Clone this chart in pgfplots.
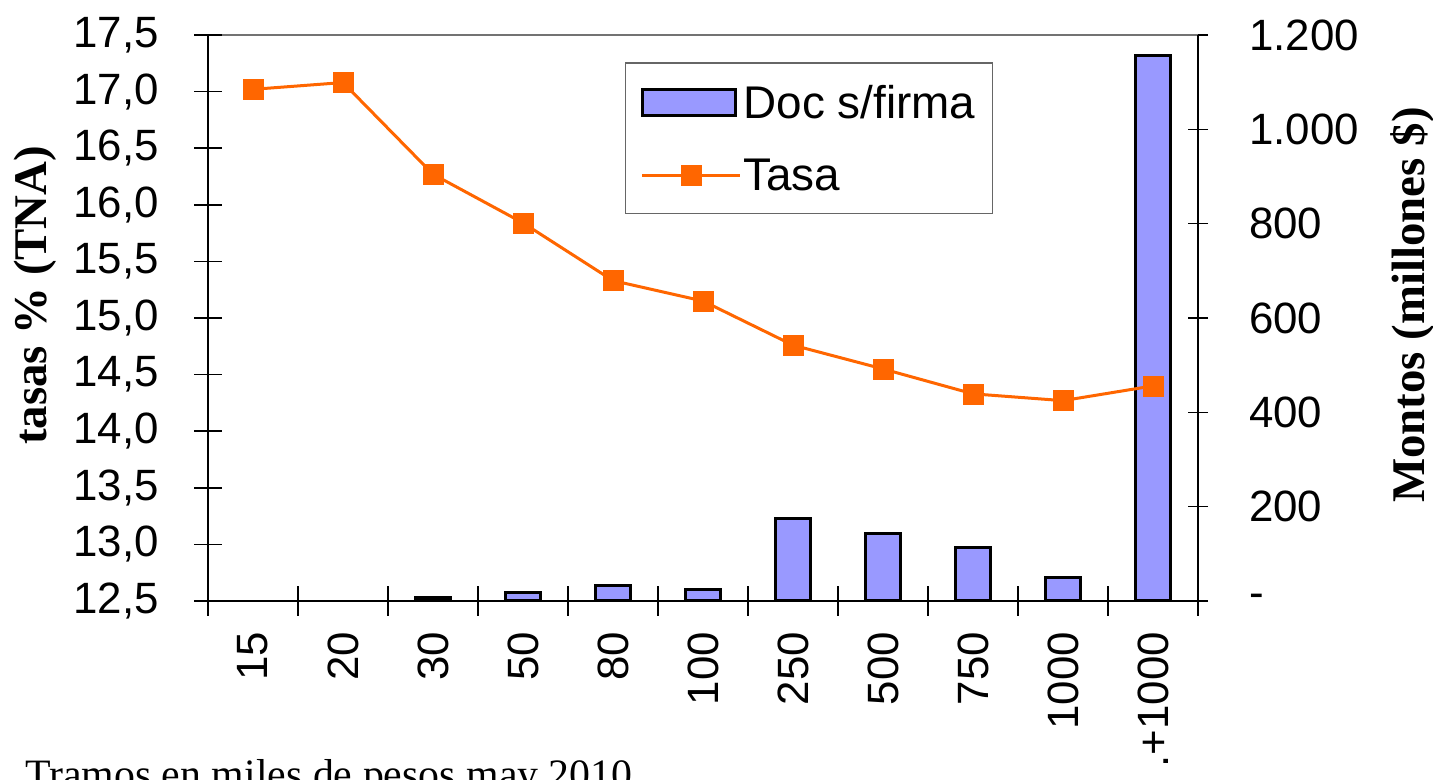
\documentclass[border=0pt]{standalone}
\usepackage{fontspec}
\setmainfont{Liberation Sans}
\newfontfamily\timesf{Liberation Serif}
\usepackage{pgfplots}
\pgfplotsset{compat=1.18}
\definecolor{barblue}{HTML}{9999FF}
\definecolor{tasaorange}{HTML}{FF6600}
\newcommand\tickfont{\fontsize{44}{50}\selectfont}
\newcommand\legfont{\fontsize{46}{52}\selectfont}
\newcommand\labfont{\timesf\bfseries\fontsize{47}{52}\selectfont}
\begin{document}
\begin{tikzpicture}
\useasboundingbox (-208bp,-179bp) rectangle (1225bp,601bp);
% bars, right axis
\begin{axis}[
  at={(0,0)}, anchor=south west, scale only axis,
  width=990bp, height=566bp,
  xmin=-0.5, xmax=10.5, ymin=0, ymax=1200,
  axis y line*=right, axis x line*=top,
  x axis line style={draw=black!55, line width=2bp},
  y axis line style={line width=1.5bp},
  xtick=\empty,
  ytick={0,200,400,600,800,1000,1200},
  yticklabels={-,200,400,600,800,{1.000},{1.200}},
  yticklabel style={anchor=west, inner sep=0pt, font=\tickfont, xshift=41bp},
  tick align=center, major tick length=20bp,
  tick style={black, line width=1.5bp},
  ylabel={Montos (millones \$)},
  ylabel style={font=\labfont, at={(axis description cs:1.217,0.523)}, anchor=center},
  ybar, bar width=35bp,
]
\addplot[fill=barblue, draw=black, line width=3bp] coordinates {
  (2,8) (3,19) (4,32) (5,25) (6,174) (7,144) (8,114) (9,49) (10,1157)};
\end{axis}
% line, left axis
\begin{axis}[
  at={(0,0)}, anchor=south west, scale only axis,
  width=990bp, height=566bp,
  xmin=-0.5, xmax=10.5, ymin=12.5, ymax=17.5,
  axis y line*=left, axis x line*=bottom,
  axis line style={line width=2bp},
  xtick={0,1,2,3,4,5,6,7,8,9,10},
  xticklabels={15,20,30,50,80,100,250,500,750,1000,.+1000},
  xticklabel style={rotate=90, anchor=east, inner sep=0pt, font=\tickfont, xshift=-17bp},
  minor xtick={-0.5,0.5,1.5,2.5,3.5,4.5,5.5,6.5,7.5,8.5,9.5,10.5},
  major x tick style={draw=none},
  ytick={12.5,13,13.5,14,14.5,15,15.5,16,16.5,17,17.5},
  yticklabels={{12,5},{13,0},{13,5},{14,0},{14,5},{15,0},{15,5},{16,0},{16,5},{17,0},{17,5}},
  yticklabel style={anchor=east, inner sep=0pt, font=\tickfont, xshift=-35bp},
  tick align=center, major tick length=28bp, minor tick length=29bp,
  tick style={black, line width=1.5bp},
  ylabel={tasas \% (TNA)},
  ylabel style={font=\labfont, at={(axis description cs:-0.175,0.54)}, anchor=center},
  legend style={at={(axis description cs:0.421,0.952)}, anchor=north west,
    draw=black!60, line width=1.5bp, font=\legfont, fill=white,
    inner xsep=15bp, inner ysep=20bp, row sep=35bp,
    /tikz/every even column/.append style={column sep=6bp}},
  legend cell align=left,
]
\addlegendimage{legend image code/.code={
  \draw[fill=barblue, draw=black, line width=3bp] (0bp,-13bp) rectangle (93bp,13bp);}}
\addlegendentry{Doc s/firma}
\addplot[color=tasaorange, line width=3bp, mark=square*, mark size=10bp,
  mark options={fill=tasaorange, draw=tasaorange, line width=0.5bp},
  legend image code/.code={
    \draw[tasaorange, line width=3bp, mark=square*, mark size=10bp,
      mark options={fill=tasaorange, draw=tasaorange, line width=0.5bp},
      mark repeat=2, mark phase=2] plot coordinates {(0bp,0bp) (49bp,0bp) (98bp,0bp)};}]
  coordinates {
  (0,17.02) (1,17.08) (2,16.27) (3,15.84) (4,15.33) (5,15.15)
  (6,14.76) (7,14.55) (8,14.33) (9,14.27) (10,14.40)};
\addlegendentry{Tasa}
\end{axis}
\node[anchor=base west, inner sep=0pt, font=\timesf\fontsize{42}{48}\selectfont]
  at (-183bp,-187bp) {Tramos en miles de pesos may 2010};
\end{tikzpicture}
\end{document}
